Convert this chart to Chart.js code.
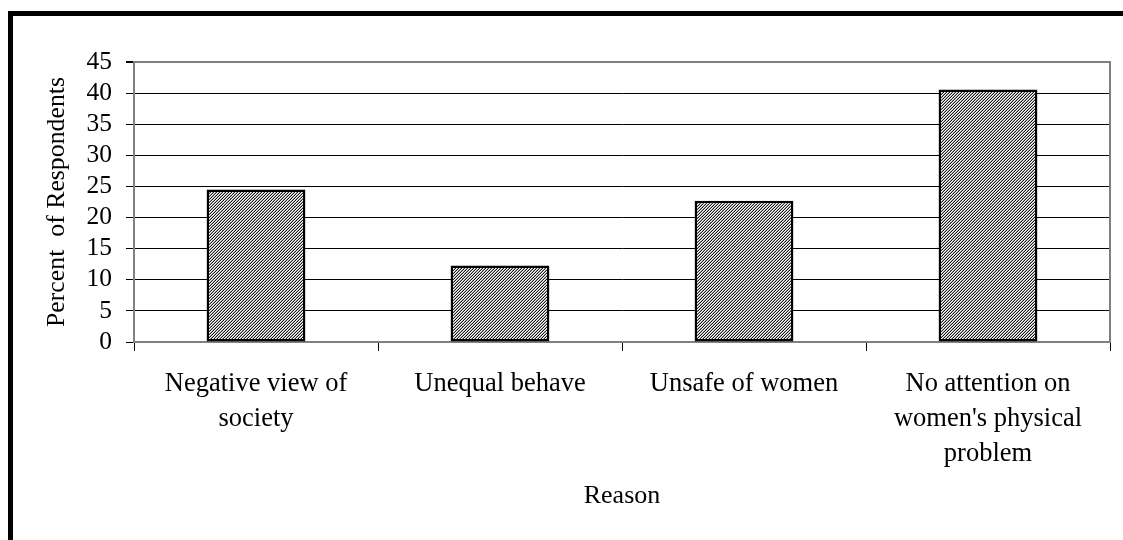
<!DOCTYPE html>
<html>
<head>
<meta charset="utf-8">
<script src="https://cdn.jsdelivr.net/npm/chart.js@4/dist/chart.umd.min.js"></script>
<style>
  html, body { margin: 0; padding: 0; background: #ffffff; }
  #wrap { position: relative; width: 1123px; height: 540px; }
</style>
</head>
<body>
<div id="wrap"><canvas id="c" width="1123" height="540"></canvas></div>
<script>
// ---- data ----
const categories = [
  ["Negative view of", "society"],
  ["Unequal behave"],
  ["Unsafe of women"],
  ["No attention on", "women's physical", "problem"]
];
const percentValues = [24.5, 12.3, 22.7, 40.6];
const yTickValues = [0, 5, 10, 15, 20, 25, 30, 35, 40, 45];
const xAxisTitle = "Reason";
const yAxisTitle = "Percent  of Respondents";

// ---- hatch pattern ----
function makeHatch() {
  const t = document.createElement('canvas');
  t.width = 3; t.height = 3;
  const g = t.getContext('2d');
  const cols = ['#1a1a1a', '#ffffff', '#a8a8a8'];
  for (let x = 0; x < 3; x++) {
    for (let y = 0; y < 3; y++) {
      g.fillStyle = cols[(x + y) % 3];
      g.fillRect(x, y, 1, 1);
    }
  }
  return g.createPattern(t, 'repeat');
}

const frame = {
  id: 'frame',
  beforeDraw(chart) {
    const c = chart.ctx;
    c.save();
    c.fillStyle = '#ffffff';
    c.fillRect(0, 0, chart.width, chart.height);
    c.restore();
  },
  afterDraw(chart) {
    const c = chart.ctx;
    const a = chart.chartArea;
    c.save();
    c.strokeStyle = '#808080';
    c.lineWidth = 2;
    c.beginPath();
    c.moveTo(a.right, a.top - 1);
    c.lineTo(a.right, a.bottom);
    c.stroke();
    c.fillStyle = '#000000';
    c.fillRect(8, 11, chart.width - 8, 5);
    c.fillRect(8, 11, 5, chart.height - 11);
    c.restore();
  }
};

const serif = "'Liberation Serif', 'Times New Roman', serif";
const ctx = document.getElementById('c').getContext('2d');

new Chart(ctx, {
  type: 'bar',
  data: {
    labels: categories,
    datasets: [{
      data: percentValues,
      backgroundColor: makeHatch(),
      borderColor: '#000000',
      borderWidth: 2.5,
      borderSkipped: false,
      categoryPercentage: 1.0,
      barPercentage: 0.405
    }]
  },
  options: {
    responsive: false,
    animation: false,
    devicePixelRatio: 1,
    layout: { padding: { left: 0, top: 62, right: 13, bottom: 0 } },
    plugins: {
      legend: { display: false },
      tooltip: { enabled: false },
      title: { display: false }
    },
    scales: {
      x: {
        offset: true,
        grid: {
          display: true,
          drawOnChartArea: false,
          drawTicks: true,
          tickLength: 9,
          color: '#000000',
          tickColor: '#000000',
          lineWidth: 1,
          offset: true
        },
        border: { display: true, color: '#808080', width: 2 },
        ticks: {
          color: '#000000',
          font: { family: serif, size: 26.5, lineHeight: 1.33 },
          padding: 15,
          maxRotation: 0,
          autoSkip: false
        },
        title: {
          display: true,
          text: xAxisTitle,
          color: '#000000',
          font: { family: serif, size: 26, lineHeight: 1.2 },
          padding: { top: 0, bottom: 28 }
        },
        afterFit(s) { s.height = 198; }
      },
      y: {
        min: 0,
        max: 45,
        afterBuildTicks(s) { s.ticks = yTickValues.map(v => ({ value: v })); },
        grid: {
          drawTicks: true,
          tickLength: 8,
          color: (c) => (c.tick && c.tick.value === 45) ? '#808080' : '#000000',
          lineWidth: (c) => (c.tick && c.tick.value === 45) ? 2 : 1,
          tickColor: '#000000'
        },
        border: { display: true, color: '#808080', width: 2 },
        ticks: {
          color: '#000000',
          font: { family: serif, size: 25.5 },
          padding: 14,
          autoSkip: false
        },
        title: {
          display: true,
          text: yAxisTitle,
          color: '#000000',
          font: { family: serif, size: 25.8, lineHeight: 1.2 },
          padding: { top: 42, bottom: 0 }
        },
        afterFit(s) { s.width = 134; }
      }
    }
  },
  plugins: [frame]
});
</script>
</body>
</html>
